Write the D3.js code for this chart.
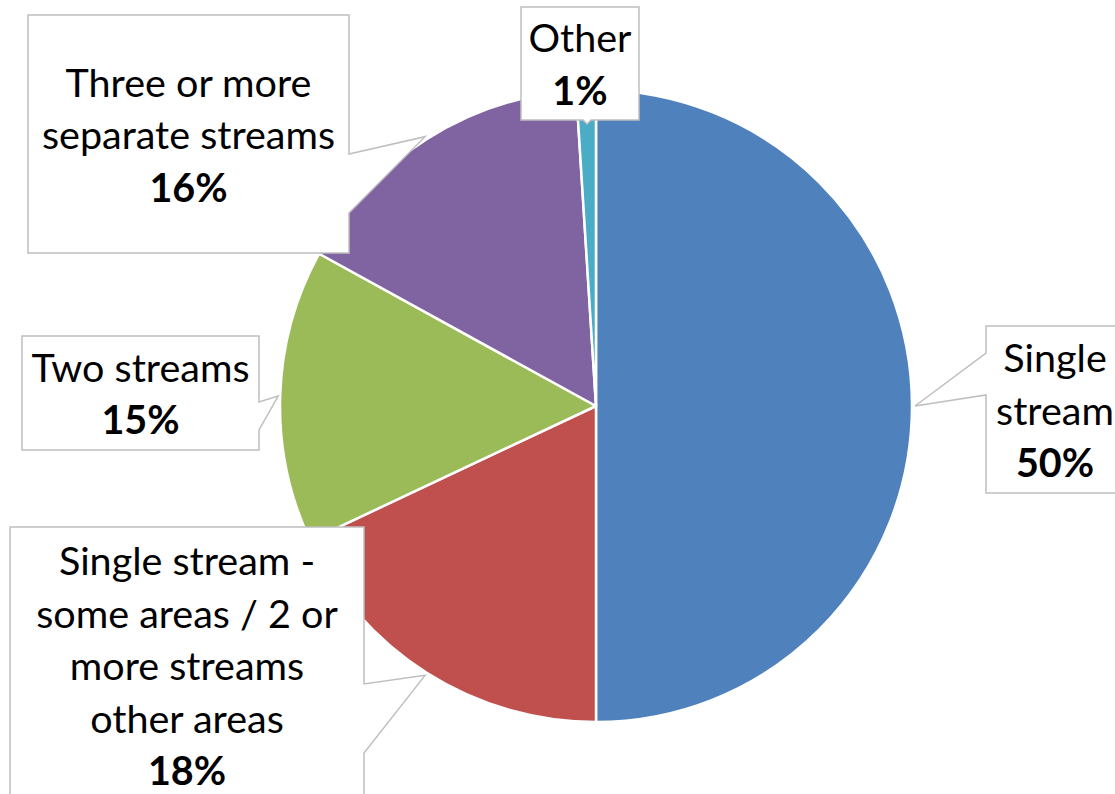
<!DOCTYPE html>
<html>
<head>
<meta charset="utf-8">
<script src="https://cdn.jsdelivr.net/npm/d3@7"></script>
<style>
  html, body { margin: 0; padding: 0; background: #fff; }
  svg { display: block; }
</style>
</head>
<body>
<svg id="chart" width="1115" height="794"></svg>
<script>
// ---- data ----
const categories = [
  "Single stream",
  "Single stream - some areas / 2 or more streams other areas",
  "Two streams",
  "Three or more separate streams",
  "Other"
];
const values = [50, 18, 15, 16, 1];
const labelLines = [
  ["Single", "stream"],
  ["Single stream -", "some areas / 2 or", "more streams", "other areas"],
  ["Two streams"],
  ["Three or more", "separate streams"],
  ["Other"]
];
const colors = ["#4F81BD", "#C0504D", "#9BBB59", "#8064A2", "#4BACC6"];

// ---- layout ----
const W = 1115, H = 794;
const cx = 596, cy = 406, R = 316;
const svg = d3.select("#chart");

const pie = d3.pie().sort(null).value(d => d.value);
const arcs = pie(categories.map((c, i) => ({ name: c, value: values[i], i })));
const arc = d3.arc().innerRadius(0).outerRadius(R);

const g = svg.append("g").attr("transform", `translate(${cx},${cy})`);
g.selectAll("path.slice")
  .data(arcs)
  .join("path")
  .attr("class", "slice")
  .attr("d", arc)
  .attr("fill", d => colors[d.data.i])
  .attr("stroke", "#fff")
  .attr("stroke-width", 2.5)
  .attr("stroke-linejoin", "round");

// callout boxes: [x0, y0, x1, y1], side of pointer, pointer base range
const boxes = [
  { b: [986, 326, 1124, 493], side: "left", a0: 353, a1: 395, tr: R + 3 },
  { b: [10, 527, 364, 803], side: "right", a0: 684, a1: 753, tr: R + 3 },
  { b: [22, 336, 259, 450], side: "right", a0: 402, a1: 430, tr: R + 2 },
  { b: [28, 15, 349, 253], side: "right", a0: 154, a1: 213, tr: R + 3 },
  { b: [521, 7, 639, 120], side: "bottom", a0: 583, a1: 591, tr: null }
];

function tipPoint(d, r) {
  const a = (d.startAngle + d.endAngle) / 2;
  return [cx + r * Math.sin(a), cy - r * Math.cos(a)];
}

function calloutPath(box, tip) {
  const [x0, y0, x1, y1] = box.b;
  const p = d3.path();
  p.moveTo(x0, y0);
  p.lineTo(x1, y0);
  if (box.side === "right") {
    p.lineTo(x1, box.a0); p.lineTo(tip[0], tip[1]); p.lineTo(x1, box.a1);
  }
  p.lineTo(x1, y1);
  if (box.side === "bottom") {
    p.lineTo(box.a1, y1); p.lineTo(tip[0], tip[1]); p.lineTo(box.a0, y1);
  }
  p.lineTo(x0, y1);
  if (box.side === "left") {
    p.lineTo(x0, box.a1); p.lineTo(tip[0], tip[1]); p.lineTo(x0, box.a0);
  }
  p.closePath();
  return p.toString();
}

const fontSize = 39.5;
const lh = 52.5;
const labels = svg.append("g");

arcs.forEach((d, k) => {
  const box = boxes[k];
  const tip = box.tr ? tipPoint(d, box.tr) : [(box.a0 + box.a1) / 2, box.b[3] + 4];
  labels.append("path")
    .attr("d", calloutPath(box, tip))
    .attr("fill", "#fff")
    .attr("stroke", "#BFBFBF")
    .attr("stroke-width", 1.5);

  const lines = labelLines[d.data.i].map(t => ({ t, bold: false }))
    .concat([{ t: d3.format(".0f")(d.data.value) + "%", bold: true }]);
  const [x0, y0, x1, y1] = box.b;
  const mx = (x0 + x1) / 2, my = (y0 + y1) / 2;
  const first = my - (lines.length - 1) * lh / 2 + 15;
  const txt = labels.append("text")
    .attr("text-anchor", "middle")
    .attr("font-family", "Lato, 'Open Sans', sans-serif")
    .attr("font-size", fontSize)
    .attr("fill", "#000");
  lines.forEach((ln, j) => {
    txt.append("tspan")
      .attr("x", mx)
      .attr("y", first + j * lh)
      .attr("font-weight", ln.bold ? "bold" : "normal")
      .text(ln.t);
  });
});
</script>
</body>
</html>
